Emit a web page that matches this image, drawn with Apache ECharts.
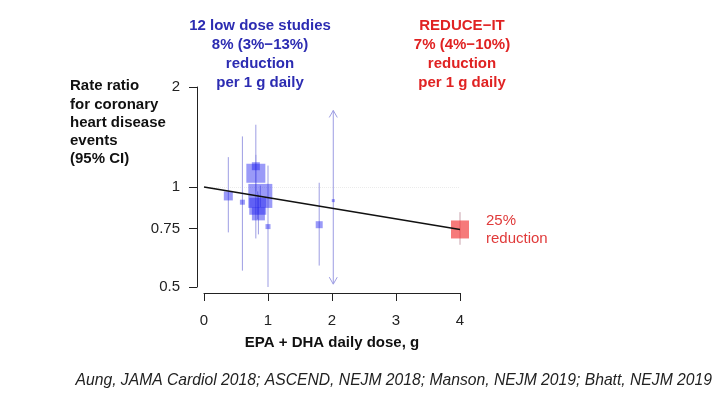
<!DOCTYPE html>
<html><head><meta charset="utf-8">
<script src="https://cdn.jsdelivr.net/npm/echarts@6/dist/echarts.min.js"></script>
<style>html,body{margin:0;padding:0;background:#fff}#c{width:716px;height:395px}</style>
</head><body><div id="c"></div>
<script>
// Low-dose studies (dose in g/day, rate ratio, 95% CI, relative weight)
const studyDose   = [0.38, 0.60, 0.81, 0.81, 0.88, 0.84, 0.85, 1.00, 1.80, 2.02];
const studyRR     = [0.94, 0.90, 1.10, 1.155, 0.94, 0.875, 0.83, 0.76, 0.77, 0.91];
const studyLo     = [0.73, 0.56, 0.97, 0.70, 0.87, 0.80, 0.72, 0.50, 0.58, 0.51];
const studyHi     = [1.23, 1.42, 1.25, 1.54, 1.01, 0.97, 0.95, 1.16, 1.03, 1.70];
const studyWeight = [9, 5, 19, 8, 24, 17, 13, 5, 7, 3];
const studyArrow  = [0, 0, 0, 0, 0, 0, 0, 0, 0, 1];
// REDUCE-IT
const reduceDose = [4];
const reduceRR   = [0.745];
const reduceLo   = [0.67];
const reduceHi   = [0.84];
const reduceWeight = [18];
// fitted line
const trendDose = [0, 4];
const trendRR   = [1.0, 0.745];
// reference line (rate ratio = 1)
const refRR = 1;
// axes
const xTicks = [0, 1, 2, 3, 4];
const yTicks = [0.5, 0.75, 1, 2];

const L = Math.log2;
const FONT = '"Liberation Sans", Arial, sans-serif';

const chart = echarts.init(document.getElementById('c'), null, {renderer: 'canvas'});

function ciRender(color) {
  return function (params, api) {
    const x = api.value(0), lo = api.value(1), hi = api.value(2), arrow = api.value(3);
    const p1 = api.coord([x, lo]), p2 = api.coord([x, hi]);
    const children = [{type: 'line', shape: {x1: p1[0], y1: p1[1], x2: p2[0], y2: p2[1]},
      style: {stroke: color, lineWidth: 1}}];
    if (arrow) {
      children.push({type: 'polyline', shape: {points: [[p2[0]-4, p2[1]+7], [p2[0], p2[1]], [p2[0]+4, p2[1]+7]]},
        style: {stroke: color, lineWidth: 1, fill: null}});
      children.push({type: 'polyline', shape: {points: [[p1[0]-4, p1[1]-7], [p1[0], p1[1]], [p1[0]+4, p1[1]-7]]},
        style: {stroke: color, lineWidth: 1, fill: null}});
    }
    return {type: 'group', children};
  };
}

const option = {
  animation: false,
  backgroundColor: '#fff',
  grid: {left: 204, top: 87, width: 256, height: 200},
  xAxis: {
    type: 'value', min: xTicks[0], max: xTicks[xTicks.length-1], interval: 1, offset: 6,
    axisLine: {show: true, onZero: false, lineStyle: {color: '#222', width: 1}},
    axisTick: {show: true, length: 8, lineStyle: {color: '#222'}},
    axisLabel: {fontSize: 15, color: '#222', fontFamily: FONT, margin: 20},
    splitLine: {show: false},
    name: 'EPA + DHA daily dose, g', nameLocation: 'middle', nameGap: 42,
    nameTextStyle: {fontSize: 15, fontWeight: 'bold', color: '#111', fontFamily: FONT}
  },
  yAxis: {
    type: 'value', min: L(yTicks[0]), max: L(yTicks[yTicks.length-1]), offset: 7,
    axisLine: {show: true, onZero: false, lineStyle: {color: '#222', width: 1}},
    axisTick: {show: true, length: 8, lineStyle: {color: '#222'}, customValues: yTicks.map(L)},
    axisLabel: {fontSize: 15, color: '#222', fontFamily: FONT, margin: 17,
      customValues: yTicks.map(L),
      formatter: v => { const r = Math.pow(2, v); return String(Math.round(r*100)/100); }},
    splitLine: {show: false}
  },
  series: [
    {
      type: 'line', z: 1, silent: true, data: [],
      markLine: {silent: true, z: 1, symbol: 'none', label: {show: false},
        lineStyle: {color: '#ebebeb', type: 'dotted', width: 1},
        data: [{yAxis: L(refRR)}]}
    },
    {
      type: 'custom', renderItem: ciRender('#9d9de3'), z: 2, silent: true,
      data: studyDose.map((d, i) => [d, L(studyLo[i]), L(studyHi[i]), studyArrow[i]])
    },
    {
      type: 'custom', renderItem: ciRender('#c9a3ad'), z: 2, silent: true,
      data: reduceDose.map((d, i) => [d, L(reduceLo[i]), L(reduceHi[i]), 0])
    },
    {
      type: 'scatter', symbol: 'rect', z: 3, silent: true,
      itemStyle: {color: 'rgba(25,25,240,0.55)'},
      data: studyDose.map((d, i) => ({value: [d, L(studyRR[i])], symbolSize: studyWeight[i]}))
    },
    {
      type: 'scatter', symbol: 'rect', z: 3, silent: true,
      itemStyle: {color: 'rgba(242,60,60,0.85)'},
      data: reduceDose.map((d, i) => ({value: [d, L(reduceRR[i])], symbolSize: reduceWeight[i]}))
    },
    {
      type: 'line', z: 4, silent: true, showSymbol: false, symbol: 'none',
      lineStyle: {color: '#111', width: 1.5},
      data: trendDose.map((d, i) => [d, L(trendRR[i])])
    }
  ],
  graphic: [
    {type: 'text', x: 260, y: 17, style: {
      text: '12 low dose studies\n8% (3%\u221213%)\nreduction\nper 1 g daily',
      textAlign: 'center', textVerticalAlign: 'top', fontSize: 15, fontWeight: 'bold',
      fontFamily: FONT, lineHeight: 18.7, fill: '#2c2cb2'}},
    {type: 'text', x: 462, y: 17, style: {
      text: 'REDUCE\u2212IT\n7% (4%\u221210%)\nreduction\nper 1 g daily',
      textAlign: 'center', textVerticalAlign: 'top', fontSize: 15, fontWeight: 'bold',
      fontFamily: FONT, lineHeight: 18.7, fill: '#e02222'}},
    {type: 'text', x: 70, y: 77, style: {
      text: 'Rate ratio\nfor coronary\nheart disease\nevents\n(95% CI)',
      textAlign: 'left', textVerticalAlign: 'top', fontSize: 15, fontWeight: 'bold',
      fontFamily: FONT, lineHeight: 18.3, fill: '#111'}},
    {type: 'text', x: 486, y: 212, style: {
      text: '25%\nreduction', textAlign: 'left', textVerticalAlign: 'top', fontSize: 15,
      fontFamily: FONT, lineHeight: 17.6, fill: '#e03a3a'}},
    {type: 'text', x: 712, y: 381, style: {
      text: 'Aung, JAMA Cardiol 2018; ASCEND, NEJM 2018; Manson, NEJM 2019; Bhatt, NEJM 2019',
      textAlign: 'right', textVerticalAlign: 'middle', fontSize: 15.7, fontStyle: 'italic',
      fontFamily: FONT, fill: '#222'}}
  ]
};
chart.setOption(option);
</script></body></html>
